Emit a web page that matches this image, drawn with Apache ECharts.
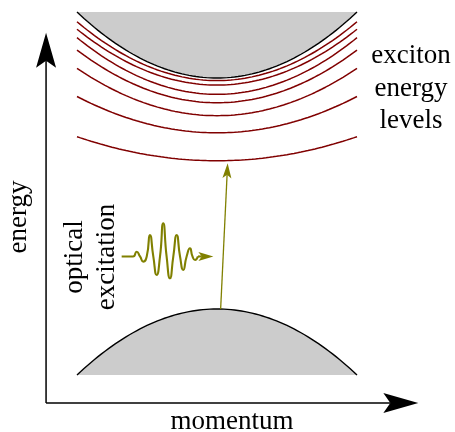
<!DOCTYPE html>
<html><head><meta charset="utf-8">
<script src="https://cdn.jsdelivr.net/npm/echarts@6/dist/echarts.min.js"></script>
<style>html,body{margin:0;padding:0;background:#fff}#c{width:455px;height:432px}</style>
</head><body><div id="c"></div>
<script>
// ---- data: momentum k (band edges at k = ±1), energy E (VB top = 0, CB bottom = 2) ----
const bandK = [-1, 1];
const cbBand = [2.0, 2.571];          // [E at k=0, E at |k|=1]
const vbBand = [0.0, -0.571];
const excitonBottom = [1.284, 1.526, 1.674, 1.786, 1.859, 1.939, 1.978];
const excitonEdge   = [1.492, 1.840, 2.084, 2.242, 2.349, 2.422, 2.487];
const waveK = [-0.681, -0.600, -0.574, -0.550, -0.526, -0.502, -0.479, -0.455, -0.431, -0.407, -0.384,
               -0.360, -0.336, -0.312, -0.288, -0.264, -0.241, -0.217, -0.193, -0.175, -0.157, -0.136];
const waveE = [0.455, 0.455, 0.496, 0.455, 0.410, 0.455, 0.641, 0.455, 0.294, 0.455, 0.742,
               0.455, 0.266, 0.455, 0.641, 0.455, 0.338, 0.455, 0.526, 0.455, 0.424, 0.455];
const photonArrow = [0.026, 0.0, 0.076, 1.262];
const waveArrow = [-0.136, 0.455, -0.026, 0.455];
const momentumAxis = [-1.221, -0.814, 1.438, -0.814];
const energyAxis = [-1.221, -0.814, -1.221, 2.392];
const bandLabels = ['CB', 'VB'];
const sideLabel = ['exciton', 'energy', 'levels'];
const excitationLabel = ['optical', 'excitation'];
const axisNames = ['momentum', 'energy'];

// ---- layout ----
const W = 455, H = 432;
const PX0 = 217, PXK = 140, PY0 = 309, PYE = 115.5;
const FONT = 'Liberation Serif';
const DARKRED = '#800000', OLIVE = '#808000', GRAY = '#cccccc';

function parabola(b, N) {
  const pts = [];
  for (let i = 0; i <= N; i++) {
    const k = bandK[0] + (bandK[1] - bandK[0]) * i / N;
    pts.push([k, b[0] + (b[1] - b[0]) * k * k]);
  }
  return pts;
}

function arrowRenderer(h) {
  return function (params, api) {
    const p1 = api.coord([api.value(0), api.value(1)]);
    const p2 = api.coord([api.value(2), api.value(3)]);
    const dx = p2[0] - p1[0], dy = p2[1] - p1[1];
    const len = Math.hypot(dx, dy);
    const ux = dx / len, uy = dy / len, nx = -uy, ny = ux;
    const bx = p2[0] - ux * h.len, by = p2[1] - uy * h.len;
    const mx = p2[0] - ux * (h.len - h.notch), my = p2[1] - uy * (h.len - h.notch);
    return { type: 'group', children: [
      { type: 'line', shape: { x1: p1[0], y1: p1[1], x2: mx, y2: my },
        style: { stroke: h.color, lineWidth: h.width } },
      { type: 'polygon', shape: { points: [p2, [bx + nx * h.half, by + ny * h.half], [mx, my], [bx - nx * h.half, by - ny * h.half]] },
        style: { fill: h.color } }
    ]};
  };
}

function fillRenderer(params, api) {
  const b = [api.value(0), api.value(1)];
  const pts = parabola(b, 80).map(p => api.coord(p));
  return { type: 'polygon', shape: { points: pts }, style: { fill: GRAY } };
}

const series = [];
series.push({ type: 'custom', coordinateSystem: 'cartesian2d', renderItem: fillRenderer,
  data: [cbBand, vbBand], encode: { x: -1, y: -1 }, silent: true, z: 1 });
[cbBand, vbBand].forEach(b => series.push({
  type: 'line', data: parabola(b, 80), showSymbol: false, clip: false, silent: true, z: 3,
  lineStyle: { color: '#000', width: 1.4 } }));
excitonBottom.forEach((e0, i) => series.push({
  type: 'line', data: parabola([e0, excitonEdge[i]], 80), showSymbol: false, clip: false, silent: true, z: 2,
  lineStyle: { color: DARKRED, width: 1.5 } }));
series.push({ type: 'line', data: waveK.map((k, i) => [k, waveE[i]]), smooth: 0.6, showSymbol: false,
  clip: false, silent: true, z: 4, lineStyle: { color: OLIVE, width: 2.1 } });
series.push({ type: 'custom', coordinateSystem: 'cartesian2d', silent: true, z: 5,
  renderItem: arrowRenderer({ len: 15, half: 4.5, notch: 3.5, color: OLIVE, width: 1.3 }),
  data: [photonArrow], encode: { x: [0, 2], y: [1, 3] } });
series.push({ type: 'custom', coordinateSystem: 'cartesian2d', silent: true, z: 5,
  renderItem: arrowRenderer({ len: 15, half: 4.5, notch: 3.5, color: OLIVE, width: 2.1 }),
  data: [waveArrow], encode: { x: [0, 2], y: [1, 3] } });
series.push({ type: 'custom', coordinateSystem: 'cartesian2d', silent: true, z: 5,
  renderItem: arrowRenderer({ len: 35, half: 10, notch: 7, color: '#000', width: 1.5 }),
  data: [momentumAxis, energyAxis], encode: { x: [0, 2], y: [1, 3] } });

const txt = (x, y, text, extra) => Object.assign({ type: 'text', x: x, y: y, silent: true,
  style: { text: text, fill: '#000', font: '27px "' + FONT + '"', align: 'center', verticalAlign: 'middle', lineHeight: 32.5 } }, extra || {});

const chart = echarts.init(document.getElementById('c'), null, { renderer: 'canvas' });
chart.setOption({
  animation: false,
  backgroundColor: '#fff',
  grid: { left: 0, right: 0, top: 0, bottom: 0 },
  xAxis: { type: 'value', min: -PX0 / PXK, max: (W - PX0) / PXK, show: false },
  yAxis: { type: 'value', min: -(H - PY0) / PYE, max: PY0 / PYE, show: false },
  series: series,
  graphic: [
    txt(217, 46, bandLabels[0]),
    txt(217, 343, bandLabels[1]),
    txt(411, 88.5, sideLabel.join('\n')),
    txt(232, 422, axisNames[0]),
    txt(19, 217, axisNames[1], { rotation: Math.PI / 2 }),
    txt(91, 257, excitationLabel.join('\n'), { rotation: Math.PI / 2 })
  ]
});
</script></body></html>
